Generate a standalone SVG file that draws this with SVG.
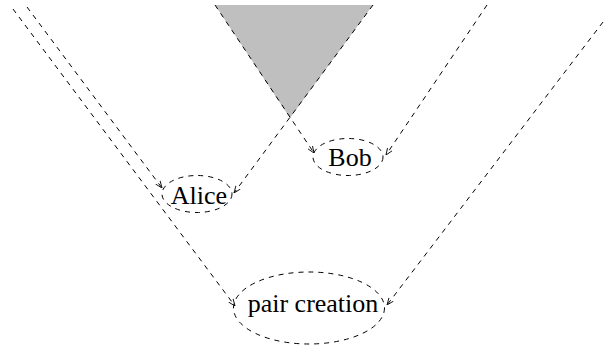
<svg xmlns="http://www.w3.org/2000/svg" width="607" height="349" viewBox="0 0 607 349">
<style>
.e{fill:none;stroke:#000;stroke-width:1;stroke-dasharray:5,5}
.l{fill:none;stroke:#000;stroke-width:1;stroke-dasharray:5,5}
.t{font-family:"Liberation Serif","Times New Roman",serif;font-size:26px;fill:#000;text-anchor:middle}
</style>
<defs>
<marker id="ah" viewBox="0 0 10 10" refX="10" refY="5" markerWidth="7" markerHeight="7" markerUnits="userSpaceOnUse" orient="auto">
<path d="M0,1 L10,5 L0,9" fill="none" stroke="#000" stroke-width="1.2"/>
</marker>
</defs>
<rect width="607" height="349" fill="#fff"/>
<g id="lightcone">
<polygon points="215,5 373,5 290,118" fill="#bfbfbf"/>
</g>
<g id="connectors">
<line class="l" x1="13" y1="9" x2="235" y2="306" marker-end="url(#ah)"/>
<line class="l" x1="27" y1="7" x2="162" y2="188" marker-end="url(#ah)"/>
<line class="l" x1="373" y1="5" x2="234" y2="193" marker-end="url(#ah)"/>
<line class="l" x1="215" y1="5" x2="314" y2="153" marker-end="url(#ah)"/>
<line class="l" x1="487" y1="5" x2="386" y2="155" marker-end="url(#ah)"/>
<line class="l" x1="603" y1="22" x2="387" y2="305" marker-end="url(#ah)"/>
</g>
<g id="alice">
<ellipse class="e" cx="197" cy="194" rx="35" ry="18.5"/>
<text class="t" x="199" y="204">Alice</text>
</g>
<g id="bob">
<ellipse class="e" cx="348" cy="157" rx="35" ry="18.5"/>
<text class="t" x="350" y="166">Bob</text>
</g>
<g id="pair_creation">
<ellipse class="e" cx="309" cy="308" rx="75.5" ry="36"/>
<text class="t" x="313" y="312">pair creation</text>
</g>
</svg>
